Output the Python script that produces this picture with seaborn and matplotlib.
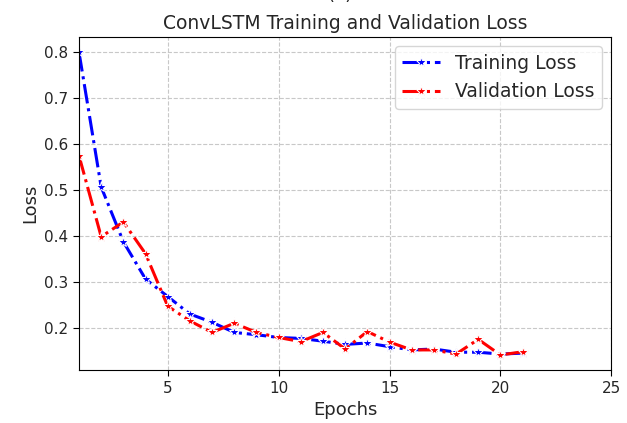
import numpy as np
import pandas as pd
import matplotlib
matplotlib.use("Agg")
import matplotlib.pyplot as plt
import seaborn as sns

# values
epochs = list(range(1, 22))
train_loss = [0.800, 0.507, 0.388, 0.307, 0.269, 0.231, 0.213, 0.191, 0.186, 0.180,
              0.178, 0.172, 0.165, 0.168, 0.160, 0.153, 0.155, 0.148, 0.148, 0.144, 0.146]
val_loss = [0.575, 0.399, 0.431, 0.362, 0.248, 0.216, 0.191, 0.211, 0.191, 0.180,
            0.171, 0.191, 0.155, 0.193, 0.170, 0.153, 0.153, 0.144, 0.176, 0.142, 0.149]

sns.set_style("white")

fig = plt.figure(figsize=(6.27, 4.23), dpi=100)
ax = fig.add_axes([0.126, 0.125, 0.849, 0.7875])

sns.lineplot(x=epochs, y=train_loss, ax=ax, color="blue", linestyle="-.",
             marker="*", markersize=8, linewidth=2.2, label="Training Loss")
sns.lineplot(x=epochs, y=val_loss, ax=ax, color="red", linestyle="-.",
             marker="*", markersize=8, linewidth=2.2, label="Validation Loss")

ax.set_xlim(1, 25)
ax.set_xticks([5, 10, 15, 20, 25])
ax.set_title("ConvLSTM Training and Validation Loss", fontsize=13.5)
ax.set_xlabel("Epochs", fontsize=13)
ax.set_ylabel("Loss", fontsize=13)
ax.grid(True, linestyle="--", color="#c8c8c8", linewidth=0.8)
for s in ax.spines.values():
    s.set_color("black")
ax.tick_params(axis="both", labelsize=11, length=4, color="black", direction="out",
               bottom=True, left=True)
ax.legend(loc="upper right", fontsize=13.5)

# panel label, cut off at the top edge as in the original
fig.text(0.542, 1.011, "(a)", ha="center", va="center", fontsize=13)

fig.savefig("out.png", dpi=100)
